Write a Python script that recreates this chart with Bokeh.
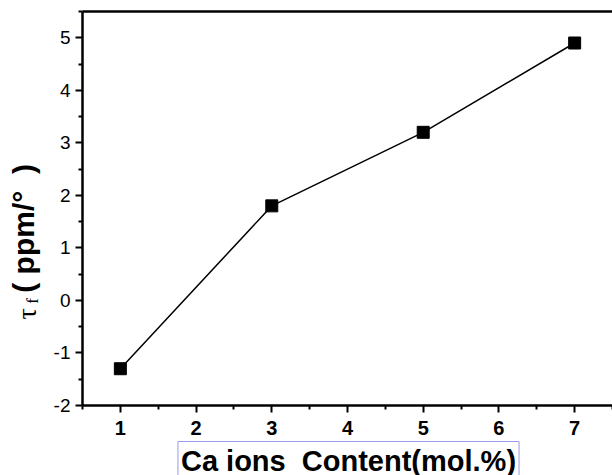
from bokeh.plotting import figure
from bokeh.models import Label, LinearAxis, Range1d, FixedTicker
from bokeh.layouts import row
from bokeh.core.properties import value
from bokeh.embed import file_html
from bokeh.resources import INLINE
import math

ca_content = [1, 3, 5, 7]
tau_f = [-1.3, 1.8, 3.2, 4.9]
x_ticks = [1, 2, 3, 4, 5, 6, 7]
y_ticks = [-2, -1, 0, 1, 2, 3, 4, 5]
y_tick_text = {-2: "-2", -1: "-1"}
x_title = "Ca ions\u00a0\u00a0Content(mol.%)"
y_title_parts = ["τ", "f", "(\u00a0ppm/°\u00a0\u00a0)"]

H = 475
LW = 45          # width of the strip holding the y title
TOP, BOTTOM = 11, 407   # frame edges in page pixels
X0, X1 = 0.5, 7.5
Y0, Y1 = -2.0, 5.5

# ---- y title strip (its frame is aligned with the main frame by the row) ----
t = figure(width=LW, height=H, output_backend="svg", toolbar_location=None,
           x_range=Range1d(0, LW), y_range=Range1d(H - BOTTOM, H - TOP),
           x_axis_type=None, y_axis_type=None, title=None,
           min_border=0, min_border_left=0, min_border_right=0,
           min_border_top=TOP, min_border_bottom=H - BOTTOM)
t.outline_line_color = None
t.background_fill_color = "white"
t.border_fill_color = "white"
rot = math.pi / 2
t.text(x=[26], y=[H - 315], text=[y_title_parts[0]], angle=rot,
       text_font=value("Liberation Serif"), text_font_size="28px",
       text_align="center", text_baseline="middle", text_color="black")
t.text(x=[32], y=[H - 302], text=[y_title_parts[1]], angle=rot,
       text_font=value("Liberation Serif"), text_font_size="17px",
       text_align="center", text_baseline="middle", text_color="black")
t.text(x=[23], y=[H - 229], text=[y_title_parts[2]], angle=rot,
       text_font=value("Liberation Sans"), text_font_style="bold", text_font_size="30px",
       text_align="center", text_baseline="middle", text_color="black")

# ---- main plot ----
p = figure(width=612 - LW, height=H, output_backend="svg", toolbar_location=None,
           x_range=Range1d(X0, X1), y_range=Range1d(Y0, Y1),
           min_border_left=82 - LW, min_border_right=0, min_border_top=TOP, min_border_bottom=H - BOTTOM)
p.outline_line_color = None
p.grid.visible = False
p.background_fill_color = "white"
p.border_fill_color = "white"

p.line(ca_content, tau_f, line_color="black", line_width=1.5)
p.scatter(ca_content, tau_f, marker="square", size=12, fill_color="black", line_color="black")

for ax in (p.xaxis[0], p.yaxis[0]):
    ax.axis_line_width = 2.5
    ax.axis_line_color = "black"
    ax.major_tick_line_width = 2
    ax.minor_tick_line_width = 2
    ax.major_tick_in = 0
    ax.major_tick_out = 7
    ax.minor_tick_in = 0
    ax.minor_tick_out = 4
    ax.major_label_text_color = "black"
    ax.major_label_text_font = "Liberation Sans"
    ax.major_label_text_font_size = "19px"

p.xaxis.ticker = FixedTicker(ticks=x_ticks, minor_ticks=[x + 0.5 for x in range(0, 8)])
p.yaxis.ticker = FixedTicker(ticks=y_ticks, minor_ticks=[y + 0.5 for y in range(-3, 6)])
p.yaxis.major_label_overrides = y_tick_text
p.xaxis.major_label_text_font_style = "bold"
p.xaxis.major_label_text_font_size = "20px"
p.xaxis.major_label_standoff = 8
p.yaxis.major_label_standoff = 5

top = LinearAxis(axis_line_width=2.5, axis_line_color="black", ticker=FixedTicker(ticks=[]),
                 major_tick_line_color=None, minor_tick_line_color=None,
                 major_label_standoff=0, major_tick_out=0, minor_tick_out=0)
p.add_layout(top, "above")

p.add_layout(Label(x=348 - LW, y=460, x_units="canvas", y_units="canvas", text=x_title,
                   text_font="Liberation Sans", text_font_style="bold", text_font_size="29px",
                   text_align="center", text_baseline="middle", text_color="black",
                   border_line_color="#9a9aee", border_line_width=1, padding=3), "below")

layout = row(t, p)
open("out.html", "w").write(file_html(layout, INLINE))
